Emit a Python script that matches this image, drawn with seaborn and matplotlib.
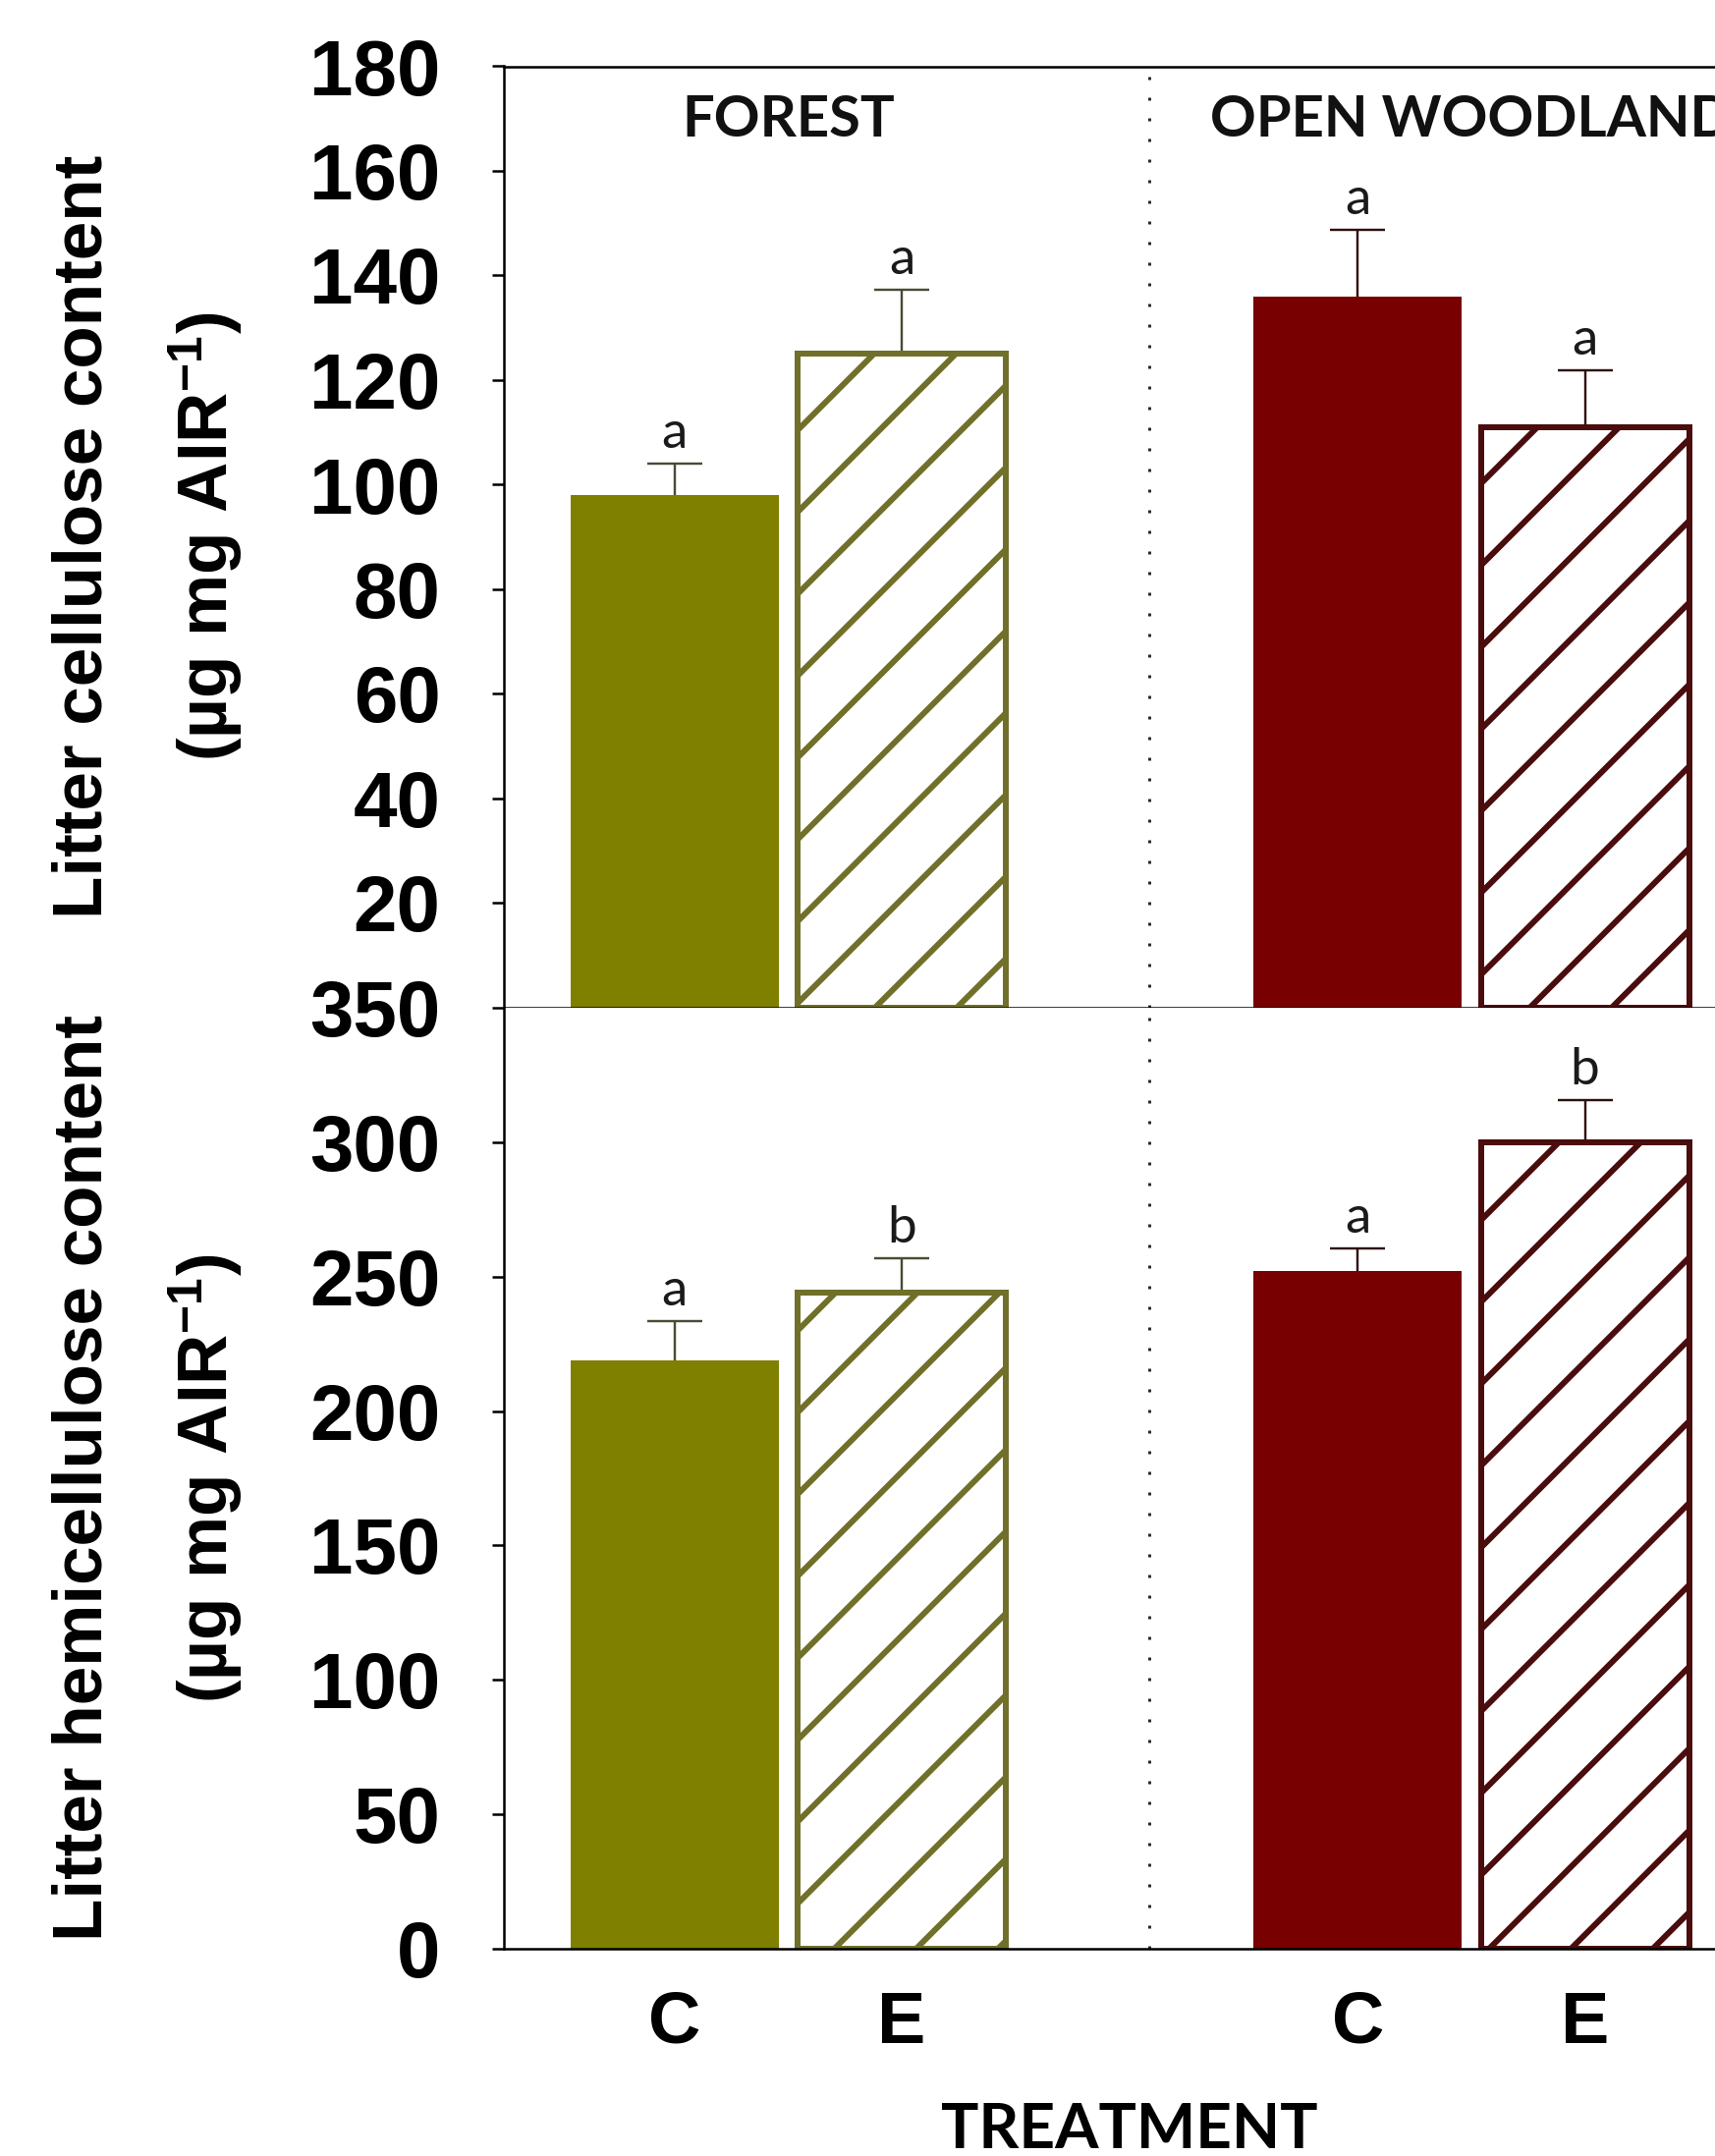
import numpy as np
import pandas as pd
import matplotlib
matplotlib.use("Agg")
import matplotlib.pyplot as plt
import matplotlib.transforms as mtransforms
import seaborn as sns

# ---------------------------------------------------------------- data
sites = ["FOREST", "OPEN WOODLAND"]
treatments = ["C", "E"]

# order: forest C, forest E, open woodland C, open woodland E
cellulose = [98.0, 125.0, 136.0, 111.0]
cellulose_se = [6.0, 12.3, 12.8, 10.8]
cellulose_letters = ["a", "a", "a", "a"]

hemicellulose = [219.0, 244.0, 252.0, 300.0]
hemicellulose_se = [14.5, 13.0, 8.4, 15.7]
hemicellulose_letters = ["a", "b", "a", "b"]

cellulose_ticks = [20, 40, 60, 80, 100, 120, 140, 160, 180]
hemicellulose_ticks = [0, 50, 100, 150, 200, 250, 300, 350]

# ---------------------------------------------------------------- style
site_colors = ["#7F7F00", "#780000"]
hatch_edges = ["#70702A", "#4A0C0C"]
err_colors = ["#4A4A36", "#2E0E0E"]

DPI = 500
PT = 72.0 / DPI          # points per output pixel
W, H = 1746, 2195

sns.set_style("white")
plt.rcParams["hatch.linewidth"] = 6 * PT
plt.rcParams["mathtext.default"] = "regular"
plt.rcParams["text.color"] = "black"
plt.rcParams["xtick.color"] = "black"
plt.rcParams["ytick.color"] = "black"
plt.rcParams["axes.labelcolor"] = "black"
plt.rcParams["font.family"] = ["Liberation Sans", "DejaVu Sans"]

fig = plt.figure(figsize=(W / DPI, H / DPI), dpi=DPI)

left = 512.5 / W
width = 1.0 - left
ax_top = fig.add_axes([left, 1 - 1026 / H, width, (1026 - 67.5) / H])
ax_bot = fig.add_axes([left, 1 - 1984 / H, width, (1984 - 1026) / H])

XLIM = (-0.417, 1.3566)
DIVIDER_X = 0.528


def draw_panel(ax, values, errs, letters, ylim, yticks):
    df = pd.DataFrame({
        "site": np.repeat(sites, len(treatments)),
        "treatment": treatments * len(sites),
        "value": values,
    })
    sns.barplot(
        data=df, x="site", y="value", hue="treatment",
        order=sites, hue_order=treatments,
        palette={"C": site_colors[0], "E": "white"},
        width=0.665, gap=0.084, errorbar=None, saturation=1,
        legend=False, ax=ax,
    )
    bar_groups = list(ax.containers)
    centers = {}
    for hi, container in enumerate(bar_groups):
        for si, bar in enumerate(container):
            idx = si * len(treatments) + hi
            if treatments[hi] == "C":
                bar.set_facecolor(site_colors[si])
                bar.set_edgecolor(site_colors[si])
                bar.set_linewidth(0)
            else:
                bar.set_facecolor("white")
                bar.set_edgecolor(hatch_edges[si])
                bar.set_hatch("//")
                bar.set_linewidth(6 * PT)
            bar.set_zorder(2)
            cx = bar.get_x() + bar.get_width() / 2
            centers[idx] = cx
            # one-sided (upper) error bar
            _, caps, _ = ax.errorbar(
                [cx], [values[idx]], yerr=[[0], [errs[idx]]], fmt="none",
                ecolor=err_colors[si], elinewidth=2.4 * PT,
                capsize=28 * PT, capthick=2.4 * PT, zorder=1,
            )
            caps[0].set_visible(False)
            ax.annotate(
                letters[idx], (cx, values[idx] + errs[idx]),
                xytext=(0, 16 * PT), textcoords="offset points",
                ha="center", va="baseline", fontsize=53 * PT,
                family=["Lato", "DejaVu Sans"], color="#1A1A1A",
            )

    ax.axvline(DIVIDER_X, color="#2A2A2A", lw=3 * PT,
               linestyle=(0, (1, 6)), zorder=0)
    ax.set_xlim(*XLIM)
    ax.set_ylim(*ylim)
    ax.set_yticks(yticks)
    ax.set_yticklabels([str(t) for t in yticks])
    ax.set_xlabel("")
    ax.set_ylabel("")
    ax.tick_params(axis="y", direction="out", length=12 * PT, width=2.5 * PT,
                   pad=52 * PT, labelsize=80 * PT, left=True,
                   color="black", labelcolor="black")
    for lab in ax.get_yticklabels():
        lab.set_fontweight("bold")
    for side in ("left", "bottom", "top"):
        ax.spines[side].set_color("black")
        ax.spines[side].set_linewidth(2.5 * PT)
    ax.spines["right"].set_visible(False)
    ax.set_facecolor("white")
    return [centers[i] for i in sorted(centers)]


draw_panel(ax_top, cellulose, cellulose_se, cellulose_letters,
           (0, 180), cellulose_ticks)
ax_top.tick_params(axis="x", bottom=False, labelbottom=False)

centers = draw_panel(ax_bot, hemicellulose, hemicellulose_se,
                     hemicellulose_letters, (0, 350), hemicellulose_ticks)
ax_bot.spines["top"].set_visible(False)
ax_bot.set_xticks(centers)
ax_bot.set_xticklabels([t for s in sites for t in treatments],
                       fontsize=74 * PT, fontweight="bold", color="black")
ax_bot.tick_params(axis="x", length=0, pad=42 * PT)

# site headings inside the upper panel
head = mtransforms.blended_transform_factory(ax_top.transData, ax_top.transAxes)
for i, name in enumerate(sites):
    ax_top.text(i, 0.925, name, transform=head, ha="center", va="baseline",
                fontsize=58 * PT, fontweight="bold",
                family=["Lato", "DejaVu Sans"], color="#111111")

# y-axis titles (two lines each)
label_kw = dict(rotation=90, rotation_mode="anchor", ha="center",
                va="baseline", fontweight="bold", fontsize=71 * PT,
                color="black")
top_mid = 1 - (1026 + 67.5) / 2 / H
bot_mid = 1 - (1984 + 1026) / 2 / H
fig.text(104 / W, top_mid, "Litter cellulose content", **label_kw)
fig.text(232 / W, top_mid, r"(µg mg AIR$^{-1}$)", **label_kw)
fig.text(104 / W, bot_mid, "Litter hemicellulose content", **label_kw)
fig.text(232 / W, bot_mid, r"(µg mg AIR$^{-1}$)", **label_kw)

fig.text(1150 / W, 8 / H, "TREATMENT", ha="center", va="baseline",
         fontsize=64 * PT, fontweight="bold", family=["Lato", "DejaVu Sans"],
         color="black")

fig.savefig("out.png", dpi=DPI, facecolor="white")
